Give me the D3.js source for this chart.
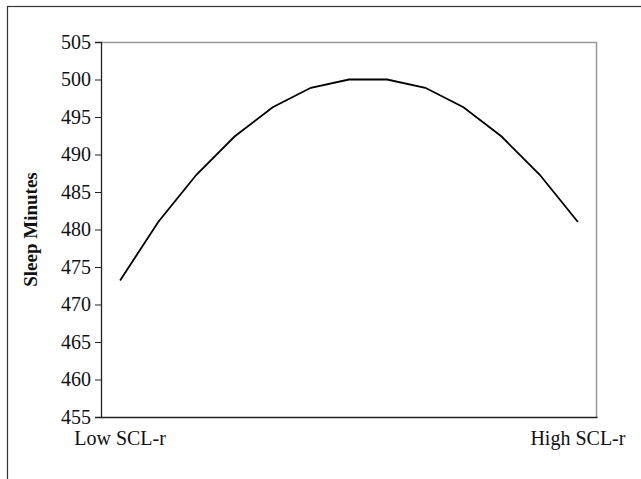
<!DOCTYPE html>
<html>
<head>
<meta charset="utf-8">
<script src="https://cdn.jsdelivr.net/npm/d3@7"></script>
<style>
  body { margin: 0; background: #fff; }
  svg { display: block; font-family: "Liberation Serif", "Times New Roman", serif; }
</style>
</head>
<body>
<svg id="chart" width="641" height="479"></svg>
<script>
var categories = ["Low SCL-r", "", "", "", "", "", "", "", "", "", "", "", "High SCL-r"];
var sleepMinutes = [473.2, 481.0, 487.3, 492.4, 496.3, 498.9, 500.0, 500.0, 498.9, 496.3, 492.4, 487.3, 481.0];
var yTicks = [455, 460, 465, 470, 475, 480, 485, 490, 495, 500, 505];

var data = categories.map(function(c, i) { return {idx: i, label: c, value: sleepMinutes[i]}; });

var margin = {top: 42, right: 44, bottom: 62, left: 101},
    width = 641 - margin.left - margin.right,
    height = 479 - margin.top - margin.bottom;

var svg = d3.select("#chart");

// outer frame (clipped on right/bottom like the picture)
svg.append("rect")
    .attr("x", 7.5).attr("y", 6.5)
    .attr("width", 700).attr("height", 600)
    .attr("fill", "none")
    .attr("stroke", "#333")
    .attr("stroke-width", 1.2);

var g = svg.append("g")
    .attr("transform", "translate(" + margin.left + "," + margin.top + ")");

var x = d3.scaleBand().domain(d3.range(categories.length)).range([0, width]);
var y = d3.scaleLinear().domain([455, 505]).range([height, 0]);

// plot border top/right
g.append("path")
    .attr("d", "M0,0.5H" + (width - 0.5) + "V" + height)
    .attr("fill", "none")
    .attr("stroke", "#999")
    .attr("stroke-width", 1.5);

var yAxis = g.append("g")
    .call(d3.axisLeft(y).tickValues(yTicks).tickSize(6).tickPadding(4));
yAxis.attr("font-size", 20).attr("font-family", "Liberation Serif, Times New Roman, serif");
yAxis.select(".domain").attr("stroke", "#222").attr("stroke-width", 1.3);
yAxis.selectAll(".tick line").attr("stroke", "#222");
yAxis.selectAll("text").attr("fill", "#111");

var xAxis = g.append("g")
    .attr("transform", "translate(0," + height + ")")
    .call(d3.axisBottom(x).tickSize(0).tickPadding(14)
        .tickFormat(function(i) { return categories[i]; }));
xAxis.attr("font-size", 20).attr("font-family", "Liberation Serif, Times New Roman, serif");
xAxis.select(".domain").attr("stroke", "#222").attr("stroke-width", 1.3);
xAxis.selectAll("text").attr("fill", "#111");

var line = d3.line()
    .x(function(d) { return x(d.idx) + x.bandwidth() / 2; })
    .y(function(d) { return y(d.value); });

g.append("path")
    .datum(data)
    .attr("d", line)
    .attr("fill", "none")
    .attr("stroke", "#000")
    .attr("stroke-width", 1.8);

// y axis title
svg.append("text")
    .attr("transform", "translate(37," + (margin.top + height / 2) + ") rotate(-90)")
    .attr("text-anchor", "middle")
    .attr("font-size", 19)
    .attr("font-weight", "bold")
    .attr("fill", "#111")
    .text("Sleep Minutes");
</script>
</body>
</html>
